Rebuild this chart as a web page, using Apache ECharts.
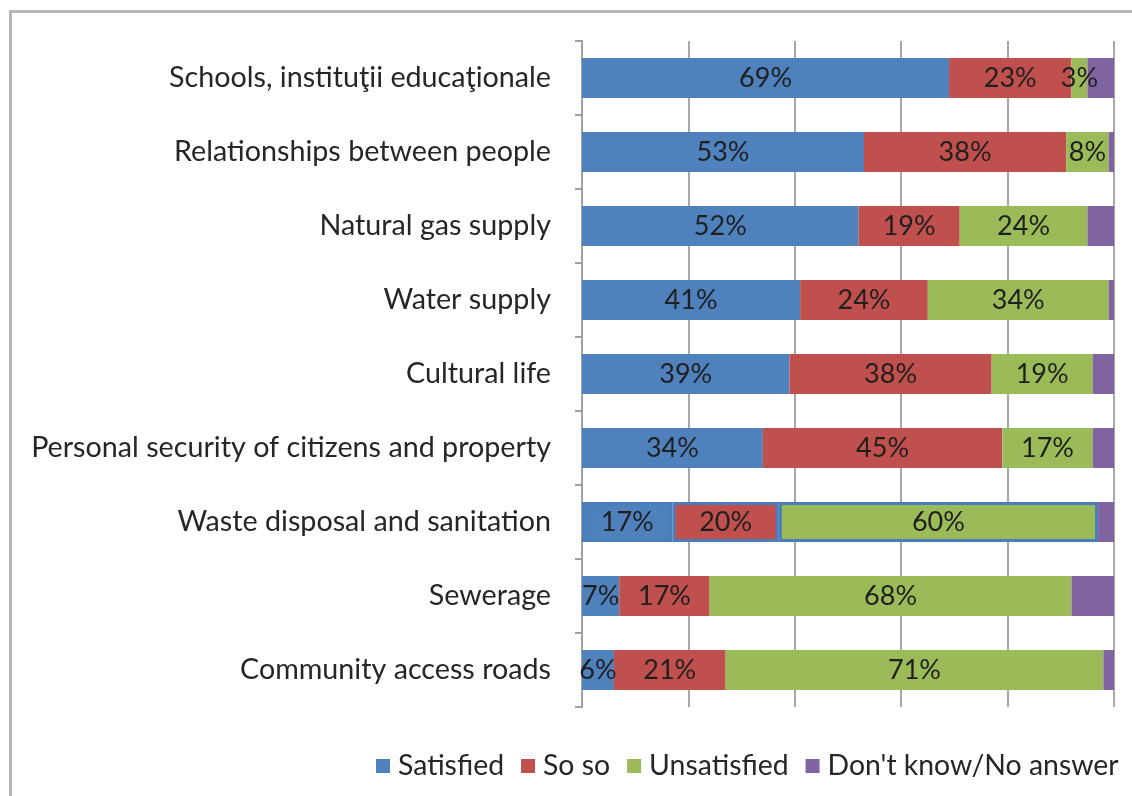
<!DOCTYPE html>
<html>
<head>
<meta charset="utf-8">
<script src="https://cdn.jsdelivr.net/npm/echarts@6/dist/echarts.min.js"></script>
<style>
  html, body { margin: 0; padding: 0; background: #ffffff; }
  #chart { width: 1132px; height: 796px; }
</style>
</head>
<body>
<div id="chart"></div>
<script>
// Survey categories, listed top to bottom
const categories = [
  'Schools, instituţii educaţionale',
  'Relationships between people',
  'Natural gas supply',
  'Water supply',
  'Cultural life',
  'Personal security of citizens and property',
  'Waste disposal and sanitation',
  'Sewerage',
  'Community access roads'
];

// Shares of respondents (%)
const satisfied   = [69, 53, 52, 41, 39, 34, 17, 7, 6];
const soSo        = [23, 38, 19, 24, 38, 45, 20, 17, 21];
const unsatisfied = [3, 8, 24, 34, 19, 17, 60, 68, 71];
const dontKnow    = [5, 1, 5, 1, 4, 4, 3, 8, 2];

const seriesNames = ['Satisfied', 'So so', 'Unsatisfied', "Don't know/No answer"];
const seriesColors = ['#4F81BD', '#C0504D', '#9BBB59', '#8064A2'];

// Row drawn with an outline around its labelled segments
const outlinedRow = 6;

const fontFamily = 'Lato, "Open Sans", sans-serif';

function buildData(values, outlined) {
  return values.map((v, i) => {
    if (outlined && i === outlinedRow) {
      return { value: v, itemStyle: { borderColor: '#4A7EBB', borderWidth: 3 } };
    }
    return v;
  });
}

const chart = echarts.init(document.getElementById('chart'), null, { renderer: 'canvas' });

const valueSets = [satisfied, soSo, unsatisfied, dontKnow];

const series = valueSets.map((vals, k) => ({
  name: seriesNames[k],
  type: 'bar',
  stack: 'total',
  barWidth: '54%',
  data: buildData(vals, k < 3),
  itemStyle: { color: seriesColors[k] },
  label: {
    show: k < 3,
    position: 'inside',
    formatter: '{c}%',
    color: '#1f1f1f',
    fontSize: 27,
    fontFamily: fontFamily
  },
  emphasis: { disabled: true }
}));

chart.setOption({
  animation: false,
  backgroundColor: '#ffffff',
  graphic: [{
    type: 'rect',
    shape: { x: 10.5, y: 11.5, width: 1140, height: 800 },
    style: { fill: 'none', stroke: '#b8b8b8', lineWidth: 3 },
    silent: true
  }],
  grid: { left: 582, right: 18, top: 41, bottom: 89, containLabel: false },
  xAxis: {
    type: 'value',
    min: 0,
    max: 100,
    interval: 20,
    axisLabel: { show: false },
    axisLine: { show: false },
    axisTick: { show: false },
    splitLine: { show: true, lineStyle: { color: '#a8a8a8', width: 2 } }
  },
  yAxis: {
    type: 'category',
    data: categories,
    inverse: true,
    axisLine: { show: true, lineStyle: { color: '#a0a0a0', width: 2 } },
    axisTick: { show: true, length: 7, interval: 0, lineStyle: { color: '#a0a0a0', width: 2 } },
    axisLabel: { margin: 31, color: '#262626', fontSize: 28.7, fontFamily: fontFamily }
  },
  legend: {
    data: seriesNames,
    left: 376,
    top: 752,
    width: 756,
    padding: 0,
    icon: 'rect',
    itemWidth: 14,
    itemHeight: 14,
    itemGap: 17,
    textStyle: { color: '#262626', fontSize: 28.4, fontFamily: fontFamily, padding: [0, 0, 0, 3] },
    selectedMode: false
  },
  series: series
});
</script>
</body>
</html>
